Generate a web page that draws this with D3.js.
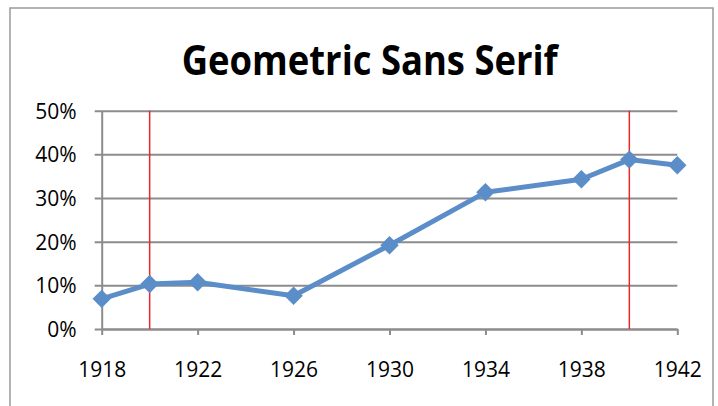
<!DOCTYPE html>
<html><head><meta charset="utf-8">
<script src="https://cdn.jsdelivr.net/npm/d3@7"></script>
<style>body{margin:0;background:#fff}svg{display:block}</style>
</head><body><svg id="c" width="718" height="406"></svg>
<script>
const years = [1918, 1920, 1922, 1926, 1930, 1934, 1938, 1940, 1942];
const shares = [0.069, 0.103, 0.107, 0.076, 0.192, 0.313, 0.343, 0.388, 0.375];
const xTicks = [1918, 1922, 1926, 1930, 1934, 1938, 1942];
const yTicks = [0, 0.1, 0.2, 0.3, 0.4, 0.5];
const markerYears = [1920, 1940];
const title = "Geometric Sans Serif";

const svg = d3.select("#c");
const x = d3.scaleLinear().domain([1918, 1942]).range([101.7, 677.3]);
const y = d3.scaleLinear().domain([0, 0.5]).range([329, 110.7]);
const font = "'Open Sans', sans-serif";

svg.append("rect").attr("x", 10).attr("y", 8).attr("width", 703).attr("height", 410)
  .attr("fill", "none").attr("stroke", "#9a9a9a").attr("stroke-width", 1.5);

svg.append("text").attr("x", 369.7).attr("y", 75).attr("text-anchor", "middle")
  .attr("font-family", font).attr("font-weight", 700)
  .attr("font-size", 41).attr("textLength", 376).attr("lengthAdjust", "spacingAndGlyphs")
  .attr("fill", "#000").text(title);

const yAxis = d3.axisLeft(y).tickValues(yTicks).tickFormat(d3.format(".0%"))
  .tickSize(-(677.3 - 101.7)).tickSizeOuter(0).tickPadding(25);
const gy = svg.append("g").attr("transform", "translate(101.7,0)").call(yAxis);
gy.select(".domain").attr("stroke", "#8c8c8c").attr("stroke-width", 2);
gy.selectAll(".tick line").attr("stroke", "#8c8c8c").attr("stroke-width", 2).attr("x2", 575.6).attr("x1", -7);
gy.selectAll(".tick text").attr("font-family", font).attr("font-size", 21).attr("fill", "#000").attr("dy", "0.36em");

const xAxis = d3.axisBottom(x).tickValues(xTicks).tickFormat(d3.format("d"))
  .tickSize(6).tickSizeOuter(0).tickPadding(27);
const gx = svg.append("g").attr("transform", "translate(0,329)").call(xAxis);
gx.select(".domain").attr("stroke", "#8c8c8c").attr("stroke-width", 2);
gx.selectAll(".tick line").attr("stroke", "#8c8c8c").attr("stroke-width", 2);
gx.selectAll(".tick text").attr("font-family", font).attr("font-size", 21).attr("fill", "#000")
  .attr("dy", null).attr("y", 48.3);

svg.selectAll(".vline").data(markerYears).enter().append("line")
  .attr("x1", d => x(d)).attr("x2", d => x(d)).attr("y1", y(0.5)).attr("y2", y(0))
  .attr("stroke", "#e8282a").attr("stroke-width", 1.5);

const pts = years.map((d, i) => [d, shares[i]]);
svg.append("path").datum(pts)
  .attr("d", d3.line().x(d => x(d[0])).y(d => y(d[1])))
  .attr("fill", "none").attr("stroke", "#5b8dc8").attr("stroke-width", 5).attr("stroke-linejoin", "round");

svg.selectAll(".pt").data(pts).enter().append("path")
  .attr("transform", d => `translate(${x(d[0])},${y(d[1])}) rotate(45)`)
  .attr("d", d3.symbol().type(d3.symbolSquare).size(170)).attr("fill", "#5b8dc8");
</script></body></html>
